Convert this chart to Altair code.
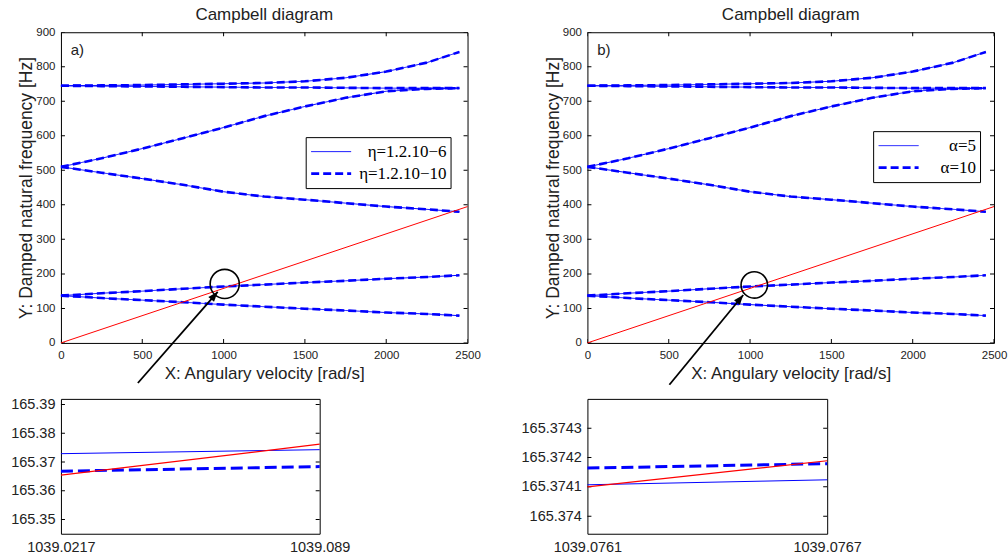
import altair as alt
import pandas as pd

# ---------------- data ----------------
OMEGA = [0, 250, 500, 750, 1000, 1250, 1500, 1750, 2000, 2250, 2450]
MODE_1 = [137, 130, 124, 118, 111, 105, 99, 94, 88, 84, 79]
MODE_2 = [137, 144, 150, 157, 163.5, 169, 175, 180, 186, 191, 196]
MODE_3 = [510, 493, 476, 458, 438, 424, 415, 405, 395, 387, 380]
MODE_4 = [510, 535, 563, 593, 624, 657, 685, 710, 729, 736, 738]
MODE_5 = [745, 744, 743, 742, 741, 740, 740, 739, 738, 738, 738]
MODE_6 = [745, 746, 747, 749, 751, 753, 758, 768, 786, 812, 843]
MODES = {"m1": MODE_1, "m2": MODE_2, "m3": MODE_3,
         "m4": MODE_4, "m5": MODE_5, "m6": MODE_6}

EXC_OMEGA = [0, 2500]
EXC_FREQ = [0, 395]

SERIES_A = ["η=1.2.10−6", "η=1.2.10−10"]
SERIES_B = ["α=5", "α=10"]

X_TICKS = [0, 500, 1000, 1500, 2000, 2500]
Y_TICKS = [0, 100, 200, 300, 400, 500, 600, 700, 800, 900]

CIRCLE_A = {"omega": [1007], "freq": [171]}
CIRCLE_B = {"omega": [1026], "freq": [168]}
ARROW_A = {"omega": [473, 964], "freq": [-116, 148]}
ARROW_B = {"omega": [504, 958], "freq": [-121, 139]}

INSET_A_OMEGA = [1039.0217, 1039.089]
INSET_A_SOLID = [165.3729, 165.3743]
INSET_A_DASHED = [165.3668, 165.3684]
INSET_A_RED = [165.3654, 165.3762]
INSET_A_YTICKS = [165.35, 165.36, 165.37, 165.38, 165.39]

INSET_B_OMEGA = [1039.0761, 1039.0767]
INSET_B_SOLID = [165.374107, 165.374124]
INSET_B_DASHED = [165.374164, 165.374179]
INSET_B_RED = [165.3741, 165.374189]
INSET_B_YTICKS = [165.374, 165.3741, 165.3742, 165.3743]

BLUE = "#0000ff"
RED = "#ff0000"
SANS = "Liberation Sans"


def campbell(series, tag, legend_x, legend_y, label_offset, circle, arrow, angle, circ_size):
    rows = []
    for s in series:
        for name, vals in MODES.items():
            for x, y in zip(OMEGA, vals):
                rows.append({"omega": x, "freq": y, "mode": name, "series": s})
    df = pd.DataFrame(rows)

    xs = alt.Scale(domain=[0, 2500], nice=False, zero=False)
    ys = alt.Scale(domain=[0, 900], nice=False, zero=False)
    xax = alt.Axis(values=X_TICKS, title="X: Angulary velocity [rad/s]",
                   labelFont=SANS, labelFontSize=11.5, labelPadding=7,
                   titlePadding=4, format="d")
    yax = alt.Axis(values=Y_TICKS, title="Y: Damped natural frequency [Hz]",
                   labelFont=SANS, labelFontSize=11.5, labelPadding=6,
                   titlePadding=0, format="d", titleFontSize=17.5)
    X = alt.X("omega:Q", scale=xs, axis=xax)
    Y = alt.Y("freq:Q", scale=ys, axis=yax)

    leg = dict(title=None, orient="none", legendX=legend_x, legendY=legend_y,
               direction="vertical", symbolType="stroke", symbolSize=1600,
               symbolStrokeColor=BLUE, clipHeight=21, rowPadding=1, padding=4,
               strokeColor="black", fillColor="white", cornerRadius=0,
               labelFont="Liberation Serif", labelFontSize=17, labelColor="black",
               labelAlign="right", labelOffset=label_offset, labelLimit=0)

    lines = alt.Chart(df).mark_line(color=BLUE).encode(
        x=X, y=Y,
        detail="mode:N",
        strokeDash=alt.StrokeDash("series:N",
                                  scale=alt.Scale(domain=series, range=[[1, 0], [8, 4]]),
                                  legend=alt.Legend(**leg)),
        strokeWidth=alt.StrokeWidth("series:N",
                                    scale=alt.Scale(domain=series, range=[1, 2.6]),
                                    legend=alt.Legend(**leg)),
    )

    exc = alt.Chart(pd.DataFrame({"omega": EXC_OMEGA, "freq": EXC_FREQ})).mark_line(
        color=RED, strokeWidth=1).encode(x=X, y=Y)

    xt = pd.DataFrame([{"omega": v, "freq": e} for v in X_TICKS for e in (0, 900)])
    yt = pd.DataFrame([{"omega": e, "freq": v} for v in Y_TICKS for e in (0, 2500)])
    xticks = alt.Chart(xt).mark_tick(orient="vertical", size=8, thickness=1,
                                     color="black", clip=True, opacity=1).encode(x=X, y=Y)
    yticks = alt.Chart(yt).mark_tick(orient="horizontal", size=8, thickness=1,
                                     color="black", clip=True, opacity=1).encode(x=X, y=Y)

    circ = alt.Chart(pd.DataFrame(circle)).mark_point(
        shape="circle", size=circ_size, filled=False, stroke="black",
        strokeWidth=1.6, opacity=1).encode(x=X, y=Y)
    arr_line = alt.Chart(pd.DataFrame(arrow)).mark_line(
        color="black", strokeWidth=1.8).encode(x=X, y=Y)
    head = pd.DataFrame({"omega": arrow["omega"][1:], "freq": arrow["freq"][1:]})
    arr_head = alt.Chart(head).mark_point(
        shape="M0,0L-0.38,1L0.38,1Z", size=400, angle=angle, filled=True,
        color="black", opacity=1).encode(x=X, y=Y)

    label = alt.Chart(pd.DataFrame({"omega": [60], "freq": [848], "t": [tag]})).mark_text(
        align="left", baseline="middle", font=SANS, fontSize=15, color="#222").encode(
        x=X, y=Y, text="t:N")

    return alt.layer(lines, xticks, yticks, exc, circ, arr_line, arr_head, label).properties(
        width=407, height=311,
        title=alt.TitleParams("Campbell diagram", font=SANS, fontSize=17,
                              fontWeight="normal", color="#222", anchor="middle",
                              frame="group", offset=2),
    )


def inset(xvals, solid, dashed, red, yticks, domain, width, yfmt):
    xs = alt.Scale(domain=xvals, nice=False, zero=False)
    ys = alt.Scale(domain=domain, nice=False, zero=False)
    X = alt.X("omega:Q", scale=xs,
              axis=alt.Axis(values=xvals, format=".4~f", title=None,
                            labelFont=SANS, labelFontSize=14.5, labelPadding=7))
    Y = alt.Y("freq:Q", scale=ys,
              axis=alt.Axis(values=yticks, format=yfmt, title=None,
                            labelFont=SANS, labelFontSize=14.5, labelPadding=6))
    yt = pd.DataFrame([{"omega": e, "freq": v} for v in yticks for e in xvals])
    ticks = alt.Chart(yt).mark_tick(orient="horizontal", size=8, thickness=1,
                                    color="black", clip=True, opacity=1).encode(x=X, y=Y)
    l_solid = alt.Chart(pd.DataFrame({"omega": xvals, "freq": solid})).mark_line(
        color=BLUE, strokeWidth=1).encode(x=X, y=Y)
    l_dashed = alt.Chart(pd.DataFrame({"omega": xvals, "freq": dashed})).mark_line(
        color=BLUE, strokeWidth=3, strokeDash=[12, 5]).encode(x=X, y=Y)
    l_red = alt.Chart(pd.DataFrame({"omega": xvals, "freq": red})).mark_line(
        color=RED, strokeWidth=1.2).encode(x=X, y=Y)
    return alt.layer(ticks, l_solid, l_dashed, l_red).properties(width=width, height=135)


top_a = campbell(SERIES_A, "a)", 245, 105, 94, CIRCLE_A, ARROW_A, 41, 850)
top_b = campbell(SERIES_B, "b)", 286, 99, 56, CIRCLE_B, ARROW_B, 39, 700)
ins_a = inset(INSET_A_OMEGA, INSET_A_SOLID, INSET_A_DASHED, INSET_A_RED,
              INSET_A_YTICKS, [165.345, 165.392], 259, ".2f")
ins_b = inset(INSET_B_OMEGA, INSET_B_SOLID, INSET_B_DASHED, INSET_B_RED,
              INSET_B_YTICKS, [165.37394, 165.3744], 240, ".4~f")

chart = alt.concat(top_a, top_b, ins_a, ins_b, columns=2).properties(
    spacing={"row": 7, "column": 39},
    align="each",
    padding={"left": 10, "top": 5, "right": 0, "bottom": 0},
    background="white",
).resolve_scale(
    x="independent", y="independent", strokeDash="independent",
    strokeWidth="independent",
).resolve_legend(strokeDash="independent", strokeWidth="independent").configure_view(
    stroke="black", strokeWidth=1
).configure_axis(
    grid=False, ticks=False, domain=False, labelColor="#222", titleColor="#222",
    titleFont=SANS, titleFontSize=17, titleFontWeight="normal", labelFlush=False,
)

chart.save("out.html", embed_options={"renderer": "svg", "actions": False})
